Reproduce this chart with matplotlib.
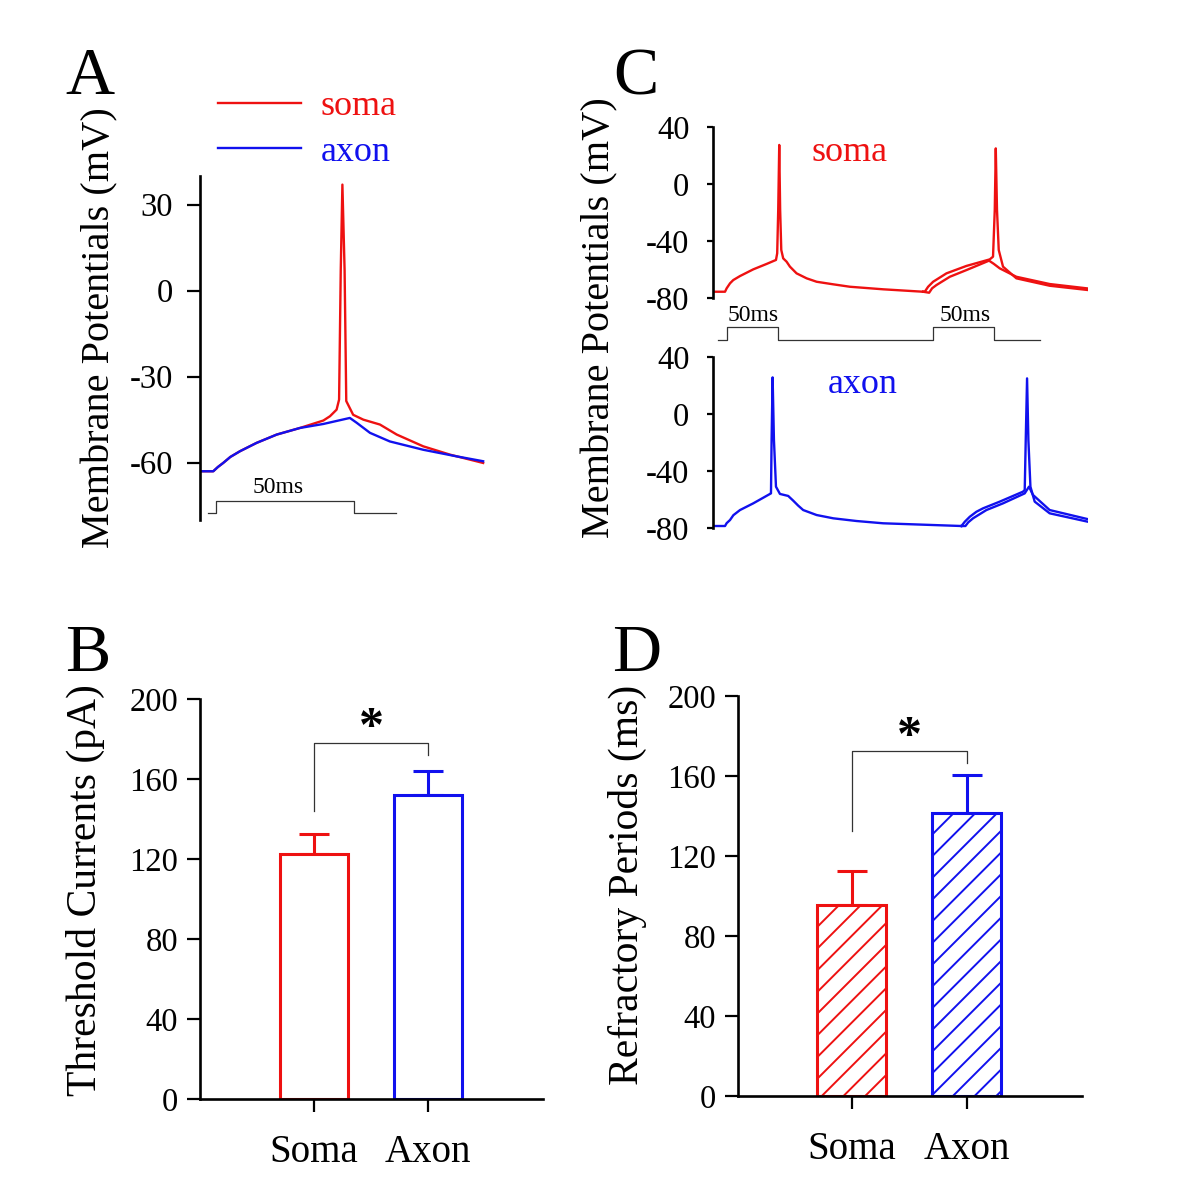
import matplotlib
matplotlib.use("Agg")
import matplotlib.pyplot as plt
import matplotlib.transforms as mtransforms
import numpy as np

plt.rcParams['font.family'] = ['Liberation Serif', 'DejaVu Serif']
plt.rcParams['axes.unicode_minus'] = False

RED = '#ee1111'
BLUE = '#1111ee'
STIM = '#333333'

# ---- Panel A: single spike, soma vs axon (time ms, potential mV)
a_soma_t = [0, 4.8, 6.5, 8.4, 11.0, 14.5, 20.5, 27.8, 36.2, 44.7, 47.1, 49.5, 50.4, 51.0,
            51.6, 52.4, 53.0, 55.5, 59.2, 65.2, 71.3, 80.9, 90.6, 102.6]
a_soma_v = [-63.0, -63.0, -61.5, -60.1, -58.0, -56.0, -53.1, -50.2, -47.9, -45.3, -43.8,
            -41.5, -38.0, 7.0, 37.0, 7.0, -38.5, -43.3, -45.0, -46.7, -50.2, -54.3, -57.2,
            -60.1]
a_axon_t = [0, 4.8, 6.5, 8.4, 11.0, 14.5, 20.5, 27.8, 36.2, 44.7, 54.3, 56.8, 61.6, 68.8,
            80.9, 93.0, 102.6]
a_axon_v = [-63.0, -63.0, -61.5, -60.1, -58.0, -56.0, -53.1, -50.2, -47.9, -46.5, -44.4,
            -46.1, -49.6, -52.6, -55.5, -57.8, -59.5]
a_stim_t = [2.9, 5.8, 5.8, 55.8, 55.8, 71.0]
a_stim_v = [-77.4, -77.4, -73.2, -73.2, -77.4, -77.4]

# ---- Panel C: paired stimuli
c_soma_first_t = [0.3, 11.8, 13.4, 16.7, 19.9, 26.5, 39.5, 52.6, 61.8, 63.0, 64.0, 65.0,
                  65.9, 67.0, 68.9, 72.2, 75.5, 82.0, 91.9, 101.7, 118.0, 134.3, 167.0,
                  206.2]
c_soma_first_v = [-75.6, -75.6, -73.2, -69.7, -67.4, -64.6, -59.9, -56.1, -53.3, -48.6,
                  -18.2, 27.4, -18.2, -46.3, -52.2, -54.5, -58.0, -62.7, -66.2, -68.6,
                  -70.4, -72.1, -73.9, -75.6]
c_soma_a_t = [206.2, 207.8, 211.1, 216.0, 229.1, 248.7, 271.6, 274.8, 276.5, 277.5, 278.7,
              280.4, 284.6, 297.7, 330.4, 367.9]
c_soma_a_v = [-75.6, -75.6, -72.1, -68.6, -62.7, -57.5, -52.9, -51.0, -18.2, 25.0, -18.2,
              -46.3, -58.0, -66.2, -71.4, -74.4]
c_soma_b_t = [206.2, 212.1, 215.0, 219.3, 232.4, 248.7, 270.9, 275.5, 281.4, 297.7, 330.4,
              367.9]
c_soma_b_v = [-75.6, -76.3, -73.2, -70.9, -65.1, -60.4, -53.8, -56.0, -59.2, -65.1, -70.2,
              -73.3]

c_axon_first_t = [0.3, 11.8, 13.4, 16.7, 20.0, 26.5, 39.5, 55.9, 56.9, 57.5, 58.5, 59.8,
                  61.8, 65.7, 73.8, 78.7, 83.6, 88.5, 101.7, 118.0, 140.9, 167.0, 243.8]
c_axon_first_v = [-78.6, -78.6, -76.6, -74.4, -71.0, -67.4, -62.7, -56.1, -55.7, -18.2,
                  25.7, -18.2, -51.0, -56.1, -57.5, -60.8, -64.3, -67.4, -70.9, -73.2,
                  -75.1, -76.7, -78.6]
c_axon_a_t = [243.8, 247.1, 252.0, 258.5, 265.0, 281.4, 304.2, 305.9, 306.9, 308.2, 309.5,
              311.5, 315.7, 330.4, 367.9]
c_axon_a_v = [-78.6, -75.6, -72.1, -68.6, -66.2, -61.5, -54.5, -53.3, -18.2, 25.0, -18.2,
              -51.0, -61.5, -69.7, -75.6]
c_axon_b_t = [243.8, 247.7, 250.5, 255.2, 268.3, 284.6, 305.9, 310.1, 314.0, 330.4, 367.9]
c_axon_b_v = [-78.6, -78.6, -76.0, -73.2, -67.4, -62.7, -55.7, -51.0, -56.8, -67.4, -73.8]

c_stim_t = [4.9, 14.0, 14.0, 64.0, 64.0, 216.0, 216.0, 275.5, 275.5, 320.6]
c_stim_v = [-109.5, -109.5, -100.1, -100.1, -109.5, -109.5, -100.1, -100.1, -109.5, -109.5]

# ---- Panels B and D: bar data
categories = ['Soma', 'Axon']
threshold_mean = [122.5, 152.0]
threshold_err = [10.0, 12.0]
refractory_mean = [95.5, 141.7]
refractory_err = [17.0, 19.0]
bar_colors = [RED, BLUE]

fig = plt.figure(figsize=(12, 12), dpi=100)


def rect(left, top, right, bottom):
    return [left / 1200, 1 - bottom / 1200, (right - left) / 1200, (bottom - top) / 1200]


def style_axis(ax, tick_len, pad, show_bottom=False):
    for side in ['top', 'right']:
        ax.spines[side].set_visible(False)
    ax.spines['bottom'].set_visible(show_bottom)
    for side in ['left', 'bottom']:
        ax.spines[side].set_linewidth(1.9)
    ax.tick_params(axis='y', direction='out', length=tick_len, width=1.6, pad=pad,
                   labelsize=23.5)
    if not show_bottom:
        ax.set_xticks([])


# ---- Panel A
axA = fig.add_axes(rect(200, 176, 487, 520))
axA.plot(a_soma_t, a_soma_v, color=RED, lw=1.7, label='soma')
axA.plot(a_axon_t, a_axon_v, color=BLUE, lw=1.7, label='axon')
axA.plot(a_stim_t, a_stim_v, color=STIM, lw=0.9)
axA.text(28.3, -68.7, '50ms', fontsize=17, ha='center', va='center')
axA.set_xlim(0, 104)
axA.set_ylim(-80, 40)
axA.set_yticks([-60, -30, 0, 30])
style_axis(axA, 9.4, 10)
axA.legend(loc='upper left', bbox_to_anchor=(218 / 1200, 1 - 90 / 1200),
           bbox_transform=fig.transFigure, frameon=False, fontsize=26,
           handlelength=2.3, handletextpad=0.55, labelspacing=0.34,
           borderpad=0, borderaxespad=0, labelcolor='linecolor')

# ---- Panel C
axC1 = fig.add_axes(rect(713, 127, 1088, 298))
axC1.plot(c_soma_first_t, c_soma_first_v, color=RED, lw=1.7)
axC1.plot(c_soma_b_t, c_soma_b_v, color=RED, lw=1.7)
axC1.plot(c_soma_a_t, c_soma_a_v, color=RED, lw=1.7)
axC1.plot(c_stim_t, c_stim_v, color=STIM, lw=0.9, clip_on=False)
axC1.text(39.2, -92.6, '50ms', fontsize=17, ha='center', va='center')
axC1.text(247.0, -92.6, '50ms', fontsize=17, ha='center', va='center')
axC1.text(134.3, 21.8, 'soma', fontsize=26, color=RED, ha='center', va='center')

axC2 = fig.add_axes(rect(713, 357, 1088, 528))
axC2.plot(c_axon_first_t, c_axon_first_v, color=BLUE, lw=1.7)
axC2.plot(c_axon_b_t, c_axon_b_v, color=BLUE, lw=1.7)
axC2.plot(c_axon_a_t, c_axon_a_v, color=BLUE, lw=1.7)
axC2.text(147.0, 20.4, 'axon', fontsize=26, color=BLUE, ha='center', va='center')

for ax in (axC1, axC2):
    ax.set_xlim(0, 368)
    ax.set_ylim(-80, 40)
    ax.set_yticks([-80, -40, 0, 40])
    style_axis(ax, 4, 13)


# ---- Bar panels
def hatch_bar(ax, bar, color, spacing=21.7):
    x0, y0, x1, y1 = bar.get_window_extent().extents
    h = y1 - y0
    for c in np.arange(x0 - h, x1 + spacing, spacing):
        ln, = ax.plot([c, c + h], [y0, y1], color=color, lw=1.4,
                      transform=mtransforms.IdentityTransform())
        ln.set_clip_path(bar)


def bar_panel(ax, means, errs, ylabel_ticks, sig, hatched):
    x = np.arange(len(categories))
    ax.set_ylim(0, 200)
    bars = ax.bar(x, means, width=0.6, facecolor='white', edgecolor=bar_colors,
                  linewidth=2.2, zorder=2)
    for i, b in enumerate(bars):
        ax.errorbar(x[i], means[i], yerr=[[0], [errs[i]]], color=bar_colors[i],
                    elinewidth=2.2, capsize=10.8, capthick=2.2, zorder=1)
    ax.set_yticks(ylabel_ticks)
    ax.set_xticks(x)
    ax.set_xticklabels(categories)
    style_axis(ax, 9.4, 6.5, show_bottom=True)
    ax.tick_params(axis='x', direction='out', length=9.4, width=1.6, pad=16, labelsize=28)
    left_y, top_y, right_y, star_y = sig
    ax.plot([x[0], x[0], x[1], x[1]], [left_y, top_y, top_y, right_y], color='#333333',
            lw=0.9, clip_on=False)
    ax.text((x[0] + x[1]) / 2, star_y, '*', fontsize=36, fontweight='bold',
            ha='center', va='center')
    if hatched:
        fig.canvas.draw()
        for i, b in enumerate(bars):
            hatch_bar(ax, b, bar_colors[i])


axB = fig.add_axes(rect(200, 699, 543, 1099))
axB.set_xlim(-1.0, 2.01)
bar_panel(axB, threshold_mean, threshold_err, [0, 40, 80, 120, 160, 200],
          (144, 178, 172, 185), False)

axD = fig.add_axes(rect(738, 696, 1082, 1096))
axD.set_xlim(-0.991, 2.0)
bar_panel(axD, refractory_mean, refractory_err, [0, 40, 80, 120, 160, 200],
          (132.7, 172.7, 166.7, 179), True)

# ---- Axis titles and panel letters
fig.text(100 / 1200, 1 - 328 / 1200, 'Membrane Potentials (mV)', rotation=90,
         fontsize=29, ha='center', va='center')
fig.text(600 / 1200, 1 - 318 / 1200, 'Membrane Potentials (mV)', rotation=90,
         fontsize=29, ha='center', va='center')
fig.text(85 / 1200, 1 - 890 / 1200, 'Threshold Currents (pA)', rotation=90,
         fontsize=30, ha='center', va='center')
fig.text(627 / 1200, 1 - 885 / 1200, 'Refractory Periods (ms)', rotation=90,
         fontsize=30, ha='center', va='center')
for letter, lx, ly in [('A', 90, 78), ('B', 88, 655), ('C', 636, 78), ('D', 637, 655)]:
    fig.text(lx / 1200, 1 - ly / 1200, letter, fontsize=49, ha='center', va='center')

fig.savefig('out.png', dpi=100)
